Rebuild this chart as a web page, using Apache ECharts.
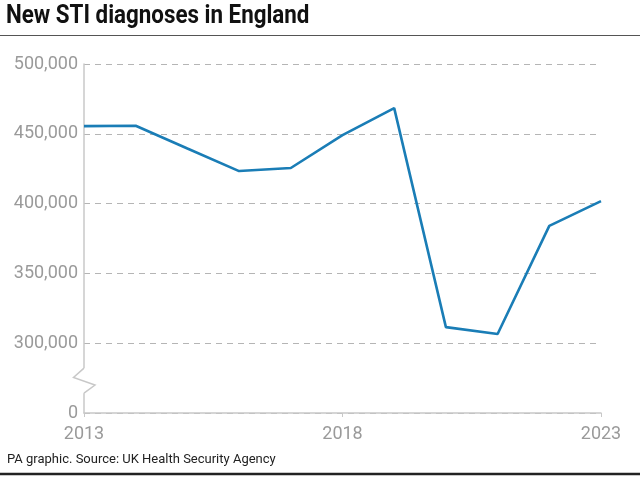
<!DOCTYPE html>
<html><head><meta charset="utf-8">
<script src="https://cdn.jsdelivr.net/npm/echarts@6/dist/echarts.min.js"></script>
<style>html,body{margin:0;padding:0;background:#fff}#c{width:640px;height:477px}</style>
</head><body><div id="c"></div>
<script>
const years = [2013,2014,2015,2016,2017,2018,2019,2020,2021,2022,2023];
const diagnoses = [455500,455800,439500,423300,425500,449000,468400,311500,306600,384000,401800];
const yTicks = [250000,300000,350000,400000,450000,500000];
const xTicks = [2013,2018,2023];
const title = 'New STI diagnoses in England';
const source = 'PA graphic. Source: UK Health Security Agency';

const chart = echarts.init(document.getElementById('c'), null, {renderer:'canvas'});
const FONT = 'Roboto, "Liberation Sans", sans-serif';
const option = {
  animation:false,
  grid:{left:84,right:39,top:64,bottom:64},
  xAxis:{type:'value',min:xTicks[0],max:xTicks[xTicks.length-1],interval:5,
    axisLine:{lineStyle:{color:'#c8c8c8',width:1.5}},
    axisTick:{show:true,length:4,lineStyle:{color:'#c8c8c8'}},
    axisLabel:{color:'#9a9a9a',fontSize:18,fontFamily:FONT,margin:12,
      formatter:v=>String(v)},
    splitLine:{show:false}},
  yAxis:{type:'value',min:yTicks[0],max:yTicks[yTicks.length-1],interval:50000,
    axisLine:{show:true,lineStyle:{color:'#c8c8c8',width:1.5}},
    axisTick:{show:false},
    axisLabel:{color:'#9a9a9a',fontSize:18,fontFamily:FONT,margin:6,
      formatter:v=> v===yTicks[0] ? '0' : v.toLocaleString('en-GB')},
    splitLine:{show:true,lineStyle:{color:'#b5b5b5',type:[6,5],width:1}}},
  series:[{type:'line',data:years.map((y,i)=>[y,diagnoses[i]]),
    showSymbol:false,lineStyle:{color:'#1a7db6',width:2.6},z:5}],
  graphic:[
    {type:'text',left:6,top:3,scaleX:0.86,style:{text:title,font:'bold 26px '+FONT,fill:'#111'}},
    {type:'line',shape:{x1:0,y1:35.5,x2:640,y2:35.5},style:{stroke:'#555',lineWidth:1.2}},
    {type:'text',left:7,top:453,style:{text:source,font:'13px '+FONT,fill:'#222'}},
    {type:'line',shape:{x1:0,y1:474,x2:640,y2:474},style:{stroke:'#222',lineWidth:2.5}}
  ]
};
chart.setOption(option);
// axis break zigzag
const pBot = chart.convertToPixel({gridIndex:0},[2013,250000]);
const pTop = chart.convertToPixel({gridIndex:0},[2013,300000]);
const ax = pBot[0];
const h = pBot[1]-pTop[1];
const y0 = pBot[1]-h*0.643, y1 = pBot[1]-h*0.51, y2 = pBot[1]-h*0.40, y3 = pBot[1]-h*0.285;
chart.setOption({graphic:option.graphic.concat([
  {type:'rect',shape:{x:ax-2,y:y0,width:4,height:y3-y0},style:{fill:'#fff'},z:10},
  {type:'polyline',shape:{points:[[ax,y0],[ax-10.5,y1],[ax+11,y2],[ax,y3]]},
    style:{stroke:'#c8c8c8',lineWidth:1.5,fill:null},z:11}
])});
</script></body></html>
